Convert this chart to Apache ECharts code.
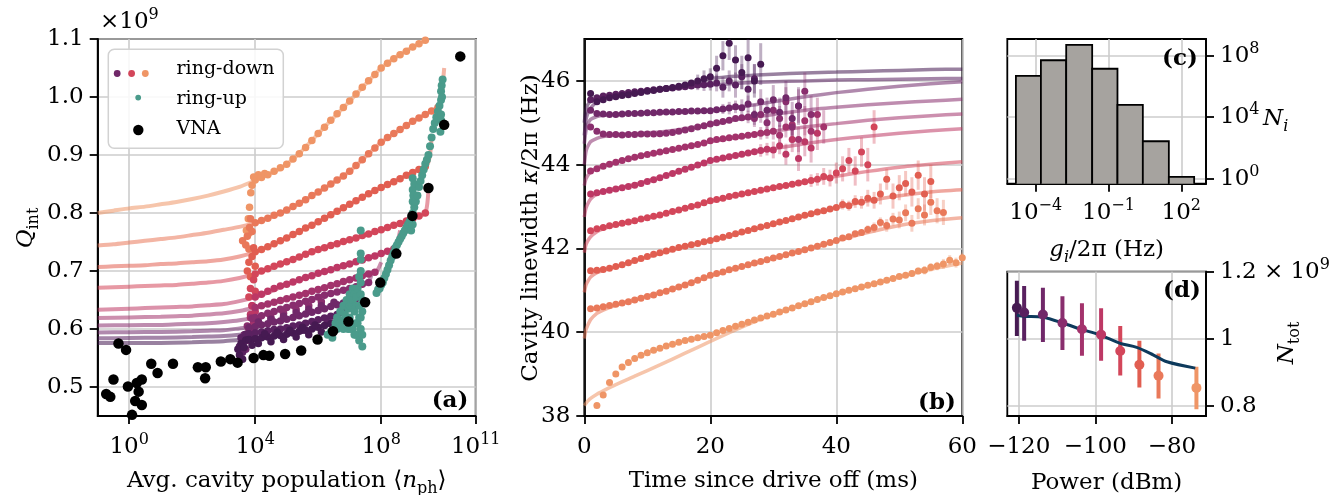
<!DOCTYPE html>
<html><head><meta charset="utf-8">
<script src="https://cdn.jsdelivr.net/npm/echarts@6/dist/echarts.min.js"></script>
<style>html,body{margin:0;padding:0;background:#fff}#c{width:1338px;height:495px}</style>
</head><body><div id="c"></div>
<script>
// ---------- colours per drive power (index 0 = -120 dBm ... 9 = -74 dBm) ----------
const colors = ['#461a52','#5a2160','#702869','#892e6e','#a3336c','#bd3865','#d3465a','#e15e51','#e9795a','#ef9566'];
const tealColor = '#4a9b8b';
const navy = '#0d3a5c';

// ---------- panel (a): Q_int vs <n_ph>  (x given as log10 n_ph) ----------
const fitA = [
 [[-1,.576],[0,.576],[1,.576],[2,.577],[2.5,.578],[3,.579],[3.5,.581],[4,.583],[4.5,.587],[5,.591],[5.5,.597],[6,.603],[6.5,.610],[6.6,.618]],
 [[-1,.584],[0,.5845],[1,.585],[2,.586],[2.5,.587],[3,.588],[3.5,.590],[4,.593],[4.5,.597],[5,.602],[5.5,.609],[6,.616],[6.5,.623],[6.8,.628],[6.9,.638]],
 [[-1,.594],[0,.5945],[1,.595],[2,.596],[2.5,.597],[3,.598],[3.5,.601],[4,.604],[4.5,.610],[5,.617],[5.5,.624],[6,.632],[6.5,.640],[7,.648],[7.2,.652],[7.3,.662]],
 [[-1,.606],[0,.6065],[1,.607],[1.5,.608],[2,.609],[2.5,.610],[3,.612],[3.5,.615],[4,.620],[4.5,.628],[5,.637],[5.5,.646],[6,.655],[6.5,.663],[7,.670],[7.5,.678],[7.6,.680],[7.7,.695]],
 [[-1,.619],[0,.620],[1,.621],[1.5,.622],[2,.623],[2.5,.625],[3,.627],[3.5,.631],[4,.637],[4.5,.644],[5,.652],[5.5,.660],[6,.668],[6.5,.676],[7,.685],[7.5,.693],[7.8,.698],[7.9,.703],[8.0,.715]],
 [[-1,.633],[-0.5,.634],[0,.635],[0.5,.636],[1,.637],[1.5,.638],[2,.639],[2.5,.641],[3,.643],[3.5,.648],[4,.655],[4.5,.665],[5,.677],[5.5,.687],[6,.696],[6.5,.704],[7,.712],[7.5,.721],[8,.730],[8.4,.738],[8.5,.745],[8.6,.770]],
 [[-1,.671],[-0.5,.672],[0,.673],[0.5,.674],[1,.675],[1.5,.676],[2,.678],[2.5,.680],[3,.683],[3.5,.688],[4,.695],[4.5,.705],[5,.716],[5.5,.727],[6,.737],[6.5,.746],[7,.754],[7.5,.762],[8,.771],[8.5,.780],[9,.790],[9.4,.800],[9.5,.840]],
 [[-1,.707],[-0.5,.708],[0,.709],[0.5,.710],[1,.712],[1.5,.713],[2,.715],[2.5,.717],[3,.720],[3.5,.725],[4,.733],[4.5,.744],[5,.757],[5.5,.771],[6,.785],[6.5,.800],[7,.815],[7.5,.830],[8,.844],[8.5,.857],[9,.870],[9.45,.882],[9.55,.900],[9.6,.930]],
 [[-1,.744],[-0.5,.746],[0,.749],[0.5,.752],[1,.755],[1.5,.758],[2,.762],[2.5,.766],[3,.771],[3.5,.776],[4,.783],[4.5,.793],[5,.805],[5.5,.820],[6,.836],[6.5,.853],[7,.872],[7.5,.897],[8,.922],[8.5,.940],[9,.958],[9.5,.973],[9.8,.982],[9.9,.995],[10.0,1.05]],
 [[-1,.800],[-0.5,.804],[0,.808],[0.5,.811],[1,.815],[1.5,.819],[2,.824],[2.5,.830],[3,.837],[3.5,.845],[4,.856],[4.5,.868],[5,.884],[5.5,.908],[6,.937],[6.5,.965],[7,.993],[7.5,1.022],[8,1.05],[8.5,1.07],[9,1.086],[9.5,1.10]]
];
const ringDown = [
 [[3.5,.555],[3.55,.575],[3.6,.548],[3.45,.565],[3.65,.568],[3.7,.581],[3.8,.582],[4.0,.583],[4.2,.585],[4.4,.586],[4.6,.588],[4.8,.589],[5.0,.591],[5.2,.593],[5.4,.596],[5.6,.598],[5.8,.600],[6.0,.603],[6.2,.606],[6.4,.609],[6.5,.610],
  [3.9,.572],[4.1,.575],[4.3,.592],[4.5,.578],[4.7,.595],[4.9,.582],[5.1,.598],[5.3,.586],[5.5,.603],[5.7,.590],[5.9,.607],[6.1,.595]],
 [[3.5,.570],[3.55,.585],[3.6,.560],[3.65,.578],[3.7,.591],[3.8,.592],[4.0,.593],[4.2,.595],[4.4,.597],[4.6,.599],[4.8,.600],[5.0,.602],[5.2,.605],[5.4,.607],[5.6,.610],[5.8,.613],[6.0,.616],[6.2,.619],[6.4,.622],[6.6,.625],[6.8,.628],
  [3.9,.583],[4.3,.588],[4.7,.591],[5.1,.594],[5.5,.598],[5.9,.604],[6.3,.611]],
 [[3.6,.575],[3.65,.590],[3.7,.565],[3.75,.583],[3.8,.602],[4.0,.604],[4.2,.607],[4.4,.609],[4.6,.612],[4.8,.614],[5.0,.617],[5.2,.620],[5.4,.623],[5.6,.626],[5.8,.629],[6.0,.632],[6.2,.635],[6.4,.639],[6.6,.642],[6.8,.645],[7.0,.648],[7.2,.652],
  [4.1,.612],[4.5,.617],[4.9,.622],[5.3,.628],[5.7,.634],[6.1,.640],[6.5,.646]],
 [[3.7,.590],[3.75,.605],[3.8,.580],[3.85,.595],[3.9,.618],[4.0,.620],[4.2,.623],[4.4,.627],[4.6,.630],[4.8,.634],[5.0,.637],[5.2,.641],[5.4,.644],[5.6,.648],[5.8,.651],[6.0,.655],[6.2,.658],[6.4,.661],[6.6,.664],[6.8,.667],[7.0,.670],[7.2,.673],[7.4,.677],[7.6,.680],
  [4.1,.613],[4.5,.620],[4.9,.627],[5.3,.633],[5.7,.640],[6.1,.647]],
 [[3.8,.600],[3.85,.620],[3.9,.595],[3.95,.610],[4.0,.637],[4.2,.640],[4.4,.643],[4.6,.646],[4.8,.649],[5.0,.652],[5.2,.655],[5.4,.658],[5.6,.661],[5.8,.665],[6.0,.668],[6.2,.671],[6.4,.675],[6.6,.678],[6.8,.682],[7.0,.685],[7.2,.688],[7.4,.692],[7.6,.695],[7.8,.698]],
 [[3.85,.625],[3.9,.640],[3.95,.610],[4.0,.630],[4.0,.655],[4.2,.660],[4.4,.665],[4.6,.670],[4.8,.674],[5.0,.677],[5.2,.681],[5.4,.685],[5.6,.689],[5.8,.692],[6.0,.696],[6.2,.699],[6.4,.702],[6.6,.706],[6.8,.709],[7.0,.712],[7.2,.716],[7.4,.719],[7.6,.723],[7.8,.726],[8.0,.730],[8.2,.734],[8.4,.738]],
 [[3.8,.655],[3.85,.670],[3.9,.640],[3.95,.685],[4.0,.665],[4.0,.695],[4.2,.700],[4.4,.704],[4.6,.708],[4.8,.712],[5.0,.716],[5.2,.720],[5.4,.724],[5.6,.729],[5.8,.733],[6.0,.737],[6.2,.740],[6.4,.744],[6.6,.747],[6.8,.751],[7.0,.754],[7.2,.757],[7.4,.761],[7.6,.764],[7.8,.768],[8.0,.771],[8.2,.775],[8.4,.779],[8.6,.782],[8.8,.786],[9.0,.790],[9.2,.795],[9.4,.800]],
 [[3.75,.700],[3.8,.715],[3.85,.690],[3.9,.725],[3.95,.740],[4.0,.708],[4.0,.733],[4.2,.737],[4.4,.742],[4.6,.747],[4.8,.752],[5.0,.757],[5.2,.763],[5.4,.768],[5.6,.774],[5.8,.779],[6.0,.785],[6.2,.791],[6.4,.797],[6.6,.803],[6.8,.809],[7.0,.815],[7.2,.821],[7.4,.827],[7.6,.833],[7.8,.839],[8.0,.844],[8.2,.849],[8.4,.854],[8.6,.859],[8.8,.865],[9.0,.870],[9.2,.875],[9.4,.880]],
 [[3.6,.752],[3.7,.745],[3.75,.760],[3.8,.738],[3.82,.775],[3.85,.790],[3.9,.768],[4.0,.783],[4.2,.787],[4.4,.791],[4.6,.796],[4.8,.800],[5.0,.805],[5.2,.811],[5.4,.817],[5.6,.823],[5.8,.830],[6.0,.836],[6.2,.843],[6.4,.850],[6.6,.857],[6.8,.864],[7.0,.872],[7.2,.882],[7.4,.892],[7.6,.902],[7.8,.912],[8.0,.922],[8.2,.930],[8.4,.937],[8.6,.944],[8.8,.951],[9.0,.958],[9.2,.964],[9.4,.970],[9.6,.976],[9.8,.982]],
 [[3.72,.770],[3.78,.790],[3.8,.765],[3.82,.810],[3.86,.835],[3.9,.848],[3.95,.862],[4.0,.857],[4.1,.866],[4.2,.861],[4.3,.868],[4.4,.866],[4.6,.872],[4.8,.878],[5.0,.884],[5.2,.893],[5.4,.902],[5.6,.913],[5.8,.925],[6.0,.937],[6.2,.948],[6.4,.960],[6.6,.971],[6.8,.982],[7.0,.993],[7.2,1.005],[7.4,1.017],[7.6,1.028],[7.8,1.039],[8.0,1.05],[8.2,1.058],[8.4,1.066],[8.6,1.073],[8.8,1.079],[9.0,1.086],[9.2,1.092],[9.4,1.098]]
];
const ringUp = [[6.3,.59],[6.4,.595],[6.45,.585],[6.5,.60],[6.55,.61],[6.6,.62],[6.6,.60],[6.65,.605],[6.7,.63],[6.7,.61],[6.75,.615],[6.8,.64],[6.8,.60],[6.85,.625],[6.9,.65],[6.9,.615],[6.95,.635],[6.95,.60],[7.0,.66],[7.0,.62],[7.0,.64],[7.05,.645],[7.05,.60],[7.1,.67],[7.1,.60],[7.1,.65],[7.15,.63],[7.15,.66],[7.15,.59],[7.2,.655],[7.2,.59],[7.2,.64],[7.2,.61],[7.25,.61],[7.25,.67],[7.3,.64],[7.3,.58],[7.3,.62],[7.3,.69],[7.35,.60],[7.35,.62],[7.35,.66],[7.35,.68],[7.35,.70],[7.35,.72],[7.35,.73],[7.35,.77],[7.4,.63],[7.4,.59],[7.4,.57],[7.4,.65],
 [7.85,.662],[7.9,.668],[7.95,.67],[8.0,.676],[8.05,.68],[8.1,.688],[8.15,.695],[8.2,.702],[8.25,.71],[8.3,.718],[8.35,.725],[8.4,.732],[8.45,.74],[8.5,.745],[8.55,.75],[8.6,.755],[8.65,.76],[8.7,.765],[8.75,.77],[8.8,.775],[8.85,.78],[8.9,.785],[8.95,.79],[8.95,.77],[9.0,.78],[9.0,.80],[9.0,.82],[9.0,.84],[9.0,.86],[9.02,.83],[9.05,.81],[9.05,.85],[9.1,.82],[9.15,.83],[9.2,.845],[9.25,.855],[9.3,.865],[9.35,.875],[9.4,.885],[9.45,.892],[9.5,.90],[9.55,.915],[9.6,.93],[9.65,.945],[9.7,.955],[9.75,.965],[9.8,.975],[9.85,.985],[9.88,.94],[9.9,.96],[9.9,.97],[9.9,.995],[9.9,1.01],[9.92,1.02],[9.93,1.00],[9.95,1.03]];
const vnaLogN = [-0.73,-0.60,-0.50,-0.34,-0.10,-0.04,0.09,0.19,0.24,0.30,0.40,0.40,0.70,0.90,1.39,2.18,2.43,2.41,2.91,3.21,3.44,3.95,4.26,4.45,4.95,5.46,5.98,6.47,6.96,7.49,7.97,8.48,8.99,9.50,10.0,10.51];
const vnaQ = [.488,.483,.513,.575,.564,.501,.452,.476,.507,.492,.469,.513,.540,.524,.540,.534,.534,.515,.544,.548,.542,.550,.555,.554,.557,.563,.582,.596,.613,.646,.680,.730,.795,.843,.952,1.070];
const aTicksX = [1, 1e4, 1e8, 1e11];
const aTicksY = [0.5, 0.6, 0.7, 0.8, 0.9, 1.0, 1.1];

// ---------- panel (b): linewidth vs time ----------
const tGrid = [1,2,3,4,5,6,7,8,9,10,11,12,13,14,15,16,17,18,19,20,21,22,23,24,25,26,27,28,29,30,31,32,33,34,35,36,37,38,39,40,41,42,43,44,45,46,47,48,49,50,51,52,53,54,55,56,57,58,59,60];
const kappa = [
 [45.7,45.5,45.55,45.6,45.62,45.65,45.67,45.7,45.72,45.75,45.77,45.8,45.82,45.84,45.87,45.9,45.95,46.0,46.05,46.1,46.3,46.6,46.9,46.5,46.2,46.55,46.0,46.4],
 [45.55,45.6,45.64,45.66,45.68,45.7,45.72,45.74,45.75,45.77,45.79,45.8,45.82,45.83,45.85,45.86,45.88,45.9,45.91,45.92,45.95,45.85,46.0,45.9,46.1,45.8,46.05],
 [45.3,45.22,45.21,45.2,45.2,45.21,45.22,45.22,45.23,45.24,45.24,45.25,45.26,45.26,45.27,45.27,45.28,45.28,45.29,45.29,45.31,45.33,45.35,45.38,45.36,45.45,45.2,45.5,45.3,45.55,45.25,45.6,45.1,45.4],
 [44.9,44.8,44.73,44.72,44.72,44.71,44.72,44.72,44.73,44.73,44.73,44.74,44.75,44.77,44.8,44.83,44.86,44.9,44.93,44.97,45.0,45.03,45.06,45.1,45.12,45.14,45.1,45.2,45.0,45.3,45.1,45.5,44.9,45.4,45.75,45.2],
 [43.85,43.9,43.96,44.01,44.06,44.1,44.14,44.18,44.21,44.24,44.27,44.3,44.33,44.36,44.39,44.42,44.45,44.48,44.52,44.57,44.6,44.62,44.64,44.66,44.68,44.7,44.72,44.75,44.77,44.8,44.7,44.9,44.95,44.6,45.05,44.8,45.2,44.9],
 [43.3,43.33,43.36,43.39,43.42,43.45,43.48,43.51,43.55,43.6,43.64,43.69,43.74,43.79,43.84,43.89,43.94,43.99,44.04,44.1,44.13,44.16,44.19,44.22,44.25,44.28,44.31,44.34,44.37,44.35,44.45,44.25,44.6,44.15,44.55,44.4,44.75],
 [42.42,42.47,42.5,42.54,42.57,42.6,42.63,42.66,42.7,42.73,42.77,42.8,42.84,42.88,42.92,42.96,43.0,43.04,43.09,43.14,43.17,43.2,43.24,43.27,43.3,43.33,43.36,43.39,43.42,43.45,43.48,43.5,43.53,43.56,43.59,43.62,43.65,43.72,43.68,43.8,43.9,44.1,43.85,44.3,44.0,44.9],
 [41.47,41.48,41.5,41.53,41.57,41.61,41.66,41.71,41.76,41.81,41.86,41.9,41.94,41.98,42.02,42.05,42.09,42.12,42.16,42.19,42.23,42.27,42.31,42.35,42.39,42.43,42.47,42.51,42.55,42.59,42.63,42.67,42.71,42.75,42.79,42.83,42.87,42.9,42.94,42.98,43.05,43.02,43.12,43.1,43.2,43.15,43.3,43.65,43.25,43.45,43.55,43.35,43.75,43.3,43.6],
 [40.56,40.58,40.61,40.64,40.67,40.7,40.73,40.77,40.81,40.85,40.89,40.94,40.98,41.03,41.08,41.13,41.18,41.24,41.3,41.36,41.4,41.44,41.49,41.53,41.57,41.61,41.65,41.69,41.73,41.77,41.81,41.85,41.89,41.93,41.97,42.01,42.05,42.1,42.14,42.19,42.25,42.28,42.35,42.38,42.45,42.5,42.62,42.55,42.7,42.68,42.85,42.6,42.95,42.8,43.1,42.9,42.86],
 [37.7,38.25,38.5,38.8,39.0,39.17,39.28,39.37,39.45,39.51,39.57,39.62,39.67,39.71,39.76,39.8,39.83,39.87,39.9,39.93,39.99,40.04,40.09,40.14,40.19,40.24,40.29,40.34,40.39,40.43,40.48,40.53,40.58,40.63,40.68,40.73,40.78,40.83,40.87,40.92,40.96,41.0,41.04,41.08,41.12,41.16,41.2,41.24,41.28,41.33,41.36,41.4,41.46,41.48,41.55,41.58,41.63,41.72,41.66,41.78]
];
const bErrStart = [18,18,22,26,28,28,36,41,45,52];
const bErr = [
 [0.15,0.2,0.2,0.3,0.35,0.4,0.35,0.4,0.45,0.4,0.5],
 [0.12,0.15,0.15,0.2,0.25,0.25,0.3,0.3,0.35,0.35],
 [0.12,0.15,0.15,0.2,0.2,0.25,0.3,0.3,0.35,0.35,0.4,0.4,0.45],
 [0.15,0.2,0.2,0.25,0.3,0.3,0.35,0.4,0.4,0.45,0.45],
 [0.15,0.15,0.2,0.25,0.25,0.3,0.3,0.35,0.35,0.4,0.4],
 [0.15,0.15,0.2,0.2,0.25,0.3,0.3,0.35,0.35,0.4],
 [0.15,0.15,0.2,0.2,0.25,0.3,0.3,0.35,0.35,0.4,0.4],
 [0.12,0.12,0.15,0.15,0.2,0.2,0.25,0.25,0.3,0.3,0.3,0.35,0.35,0.4,0.4],
 [0.1,0.12,0.12,0.15,0.15,0.2,0.2,0.2,0.25,0.25,0.3,0.3,0.3],
 [0.08,0.08,0.1,0.1,0.1,0.12,0.12,0.12,0.12]
];
const fitT = [0,0.25,0.5,1,2,3,5,8,12,16,20,25,30,35,40,45,50,55,60];
const fitK = [
 [45.0,45.3,45.42,45.52,45.58,45.62,45.66,45.72,45.8,45.9,46.05,46.12,46.16,46.19,46.21,46.23,46.25,46.27,46.28],
 [44.7,45.05,45.2,45.35,45.5,45.58,45.66,45.73,45.79,45.85,45.9,45.95,45.98,46.0,46.02,46.03,46.04,46.05,46.06],
 [44.5,44.8,44.95,45.08,45.15,45.18,45.2,45.22,45.24,45.26,45.29,45.38,45.5,45.62,45.72,45.8,45.87,45.93,45.98],
 [44.0,44.3,44.42,44.55,44.63,44.67,44.71,44.74,44.78,44.86,44.96,45.1,45.2,45.3,45.37,45.43,45.48,45.52,45.56],
 [43.5,43.65,43.73,43.83,43.92,43.98,44.06,44.18,44.3,44.42,44.55,44.68,44.8,44.9,44.98,45.06,45.12,45.17,45.21],
 [42.75,42.95,43.05,43.18,43.3,43.36,43.43,43.53,43.7,43.9,44.08,44.25,44.38,44.5,44.6,44.68,44.75,44.81,44.86],
 [41.9,42.08,42.17,42.28,42.4,42.47,42.56,42.66,42.8,42.96,43.12,43.3,43.45,43.59,43.72,43.84,43.94,44.01,44.07],
 [40.95,41.12,41.2,41.32,41.42,41.48,41.56,41.7,41.88,42.04,42.18,42.38,42.58,42.78,42.97,43.13,43.26,43.35,43.4],
 [39.85,40.05,40.15,40.3,40.45,40.53,40.64,40.78,40.95,41.14,41.34,41.56,41.77,41.97,42.18,42.38,42.55,42.66,42.73],
 [38.25,38.3,38.35,38.42,38.52,38.6,38.75,38.95,39.22,39.5,39.78,40.12,40.43,40.68,40.92,41.12,41.32,41.5,41.65]
];
const bTicksX = [0, 20, 40, 60];
const bTicksY = [38, 40, 42, 44, 46];

// ---------- panel (c): histogram of couplings ----------
const binLo = [1.53e-5, 1.64e-4, 1.81e-3, 2.13e-2, 0.235, 2.61, 30.8];
const binHi = [1.64e-4, 1.81e-3, 2.13e-2, 0.235, 2.61, 30.8, 340];
const binCount = [4.8e6, 5.0e7, 5.0e8, 1.4e7, 6.3e4, 270, 1.3];
const cTicksX = [1e-4, 1e-1, 1e2];
const cTicksY = [1, 1e4, 1e8];

// ---------- panel (d): N_tot vs power ----------
const power = [-120.5,-118.6,-113.7,-108.6,-103.5,-98.5,-93.5,-88.5,-83.5,-73.6];
const nTot  = [1.092,1.078,1.072,1.047,1.028,1.012,0.963,0.922,0.889,0.853];
const nLow  = [1.008,0.994,0.990,0.966,0.949,0.934,0.890,0.854,0.821,0.789];
const nHigh = [1.173,1.157,1.152,1.127,1.106,1.091,1.038,0.994,0.956,0.916];
const modelPower = [-120.5,-118.6,-113.7,-108.3,-104,-98.8,-93.5,-89.2,-84.8,-81.3,-73.9];
const modelN = [1.070,1.067,1.064,1.046,1.029,1.011,0.986,0.974,0.951,0.931,0.912];
const dTicksX = [-120, -100, -80];
const dTicksY = [0.8, 1.0, 1.2];

// ---------- build ----------
const F = 'DejaVu Serif';
const FS = 23;
const powRich = {
  b:{fontFamily:F,fontSize:FS,color:'#000',lineHeight:30},
  s:{fontFamily:F,fontSize:16,color:'#000',verticalAlign:'top',lineHeight:16}
};
function powLabel(v){ const e = Math.round(Math.log10(v)); return '{b|10}{s|' + (e < 0 ? '\u2212' + (-e) : e) + '}'; }
function minus(v){ return v < 0 ? '\u2212' + Math.abs(v) : String(v); }
const nameRich = {
  r:{fontFamily:F,fontSize:FS,color:'#000',lineHeight:32},
  i:{fontFamily:F,fontStyle:'italic',fontSize:FS,color:'#000',lineHeight:32},
  sub:{fontFamily:F,fontSize:16,color:'#000',verticalAlign:'bottom',lineHeight:16},
  isub:{fontFamily:F,fontStyle:'italic',fontSize:16,color:'#000',verticalAlign:'bottom',lineHeight:16}
};
const L10 = e => Math.pow(10, e);

function axis(o){
  const base = {
    axisLine:{show:true,onZero:false,lineStyle:{color:'#000',width:1.8}},
    axisTick:{show:true,length:8,lineStyle:{color:'#000',width:1.8},customValues:o.ticks},
    splitLine:{show:true,lineStyle:{color:'#cccccc',width:1.6}},
    axisLabel:{show:true,color:'#000',fontFamily:F,fontSize:FS,margin:o.margin,customValues:o.ticks,formatter:o.fmt,rich:powRich,lineHeight:30,hideOverlap:false},
    nameTextStyle:{fontFamily:F,fontSize:FS,color:'#000',rich:nameRich},
    nameMoveOverlap:false
  };
  delete o.ticks; delete o.margin; delete o.fmt;
  return Object.assign(base, o);
}

const grids = [
  {left:97.7, top:39, width:378, height:377},
  {left:584.3, top:39, width:378, height:377},
  {left:1007.3, top:39, width:198.7, height:144.7},
  {left:1007.3, top:271.7, width:198.7, height:144.3}
].map(g => Object.assign({show:true, borderColor:'#000', borderWidth:1.8, containLabel:false, outerBoundsMode:'none'}, g));

const xAxes = [
  axis({type:'log', logBase:10, gridIndex:0, min:0.1, max:1e11, ticks:aTicksX, margin:16, fmt:powLabel,
        name:'{r|Avg. cavity population \u27E8}{i|n}{sub|ph}{r|\u27E9}', nameLocation:'middle', nameGap:49}),
  axis({type:'value', gridIndex:1, min:0, max:60, ticks:bTicksX, margin:16, fmt:v=>'{b|'+v+'}',
        name:'{r|Time since drive off (ms)}', nameLocation:'middle', nameGap:49}),
  axis({type:'log', logBase:10, gridIndex:2, min:6.76e-6, max:1047, ticks:cTicksX, margin:14, fmt:powLabel,
        name:'{i|g}{isub|i}{r|/2\u03C0 (Hz)}', nameLocation:'middle', nameGap:50}),
  axis({type:'value', gridIndex:3, min:-123, max:-71.1, ticks:dTicksX, margin:16, fmt:v=>'{b|'+minus(v)+'}',
        name:'{r|Power (dBm)}', nameLocation:'middle', nameGap:51})
];
const yAxes = [
  axis({type:'value', gridIndex:0, min:0.45, max:1.1, ticks:aTicksY, margin:14, fmt:v=>'{b|'+v.toFixed(1)+'}'}),
  axis({type:'value', gridIndex:1, min:38, max:47, ticks:bTicksY, margin:14, fmt:v=>'{b|'+v+'}'}),
  axis({type:'log', logBase:10, gridIndex:2, position:'right', min:0.468, max:1.2e9, ticks:cTicksY, margin:14, fmt:powLabel}),
  axis({type:'value', gridIndex:3, position:'right', min:0.769, max:1.2, ticks:dTicksY, margin:14,
        fmt:v=>Math.abs(v-1.2)<1e-6 ? '{b|1.2 \u00D7 10}{s|9}' : (Math.abs(v-1)<1e-6 ? '{b|1}' : '{b|'+v+'}')})
];

const series = [];
// (a) fit lines
for (let p = 9; p >= 0; p--) {
  series.push({type:'line', xAxisIndex:0, yAxisIndex:0, data:fitA[p].map(d=>[L10(d[0]), d[1]]),
    smooth:0.2, symbol:'none', lineStyle:{color:colors[p], width:4, opacity:0.55}, z:2, silent:true});
}
// (a) ring-down points
for (let p = 9; p >= 0; p--) {
  series.push({type:'scatter', xAxisIndex:0, yAxisIndex:0, data:ringDown[p].map(d=>[L10(d[0]), d[1]]),
    symbolSize:7.5, itemStyle:{color:colors[p], opacity:1}, z:3, silent:true});
}
series.push({type:'scatter', xAxisIndex:0, yAxisIndex:0, data:ringUp.map(d=>[L10(d[0]), d[1]]),
  symbolSize:8, itemStyle:{color:tealColor, opacity:1}, z:4, silent:true});
series.push({type:'scatter', xAxisIndex:0, yAxisIndex:0, data:vnaLogN.map((e,i)=>[L10(e), vnaQ[i]]),
  symbolSize:10.5, itemStyle:{color:'#000', opacity:1}, z:5, silent:true});

// (b) fit lines, error bars, points
for (let p = 9; p >= 0; p--) {
  series.push({type:'line', xAxisIndex:1, yAxisIndex:1, data:fitT.map((t,i)=>[t, fitK[p][i]]),
    smooth:0.2, symbol:'none', lineStyle:{color:colors[p], width:3.5, opacity:0.55}, z:2, silent:true});
}
for (let p = 9; p >= 0; p--) {
  const errData = bErr[p].map((e,i)=>{ const t = bErrStart[p]+i; const k = kappa[p][t-1]; return [t, k-e, k+e]; });
  const col = colors[p];
  series.push({type:'custom', xAxisIndex:1, yAxisIndex:1, data:errData, clip:true, z:3, silent:true,
    renderItem:(params, api)=>{
      const a = api.coord([api.value(0), api.value(1)]);
      const b = api.coord([api.value(0), api.value(2)]);
      return {type:'line', shape:{x1:a[0], y1:a[1], x2:b[0], y2:b[1]}, style:{stroke:col, lineWidth:3, opacity:0.35}};
    }});
}
for (let p = 9; p >= 0; p--) {
  series.push({type:'scatter', xAxisIndex:1, yAxisIndex:1, data:kappa[p].map((k,i)=>[tGrid[i], k]),
    symbolSize:7, itemStyle:{color:colors[p], opacity:1}, z:4, silent:true});
}

// (c) histogram
series.push({type:'custom', xAxisIndex:2, yAxisIndex:2, clip:true, z:3, silent:true,
  data:binLo.map((lo,i)=>[lo, binHi[i], binCount[i]]),
  renderItem:(params, api)=>{
    const a = api.coord([api.value(0), api.value(2)]);
    const b = api.coord([api.value(1), 0.2]);
    return {type:'rect', shape:{x:a[0], y:a[1], width:b[0]-a[0], height:b[1]-a[1]},
      style:{fill:'#a6a39f', stroke:'#000', lineWidth:1.8}};
  }});

// (d) error bars, model line, points
series.push({type:'custom', xAxisIndex:3, yAxisIndex:3, clip:true, z:3, silent:true,
  data:power.map((x,i)=>[x, nLow[i], nHigh[i], i]),
  renderItem:(params, api)=>{
    const a = api.coord([api.value(0), api.value(1)]);
    const b = api.coord([api.value(0), api.value(2)]);
    return {type:'line', shape:{x1:a[0], y1:a[1], x2:b[0], y2:b[1]}, style:{stroke:colors[api.value(3)], lineWidth:4}};
  }});
series.push({type:'line', xAxisIndex:3, yAxisIndex:3, data:modelPower.map((x,i)=>[x, modelN[i]]),
  smooth:0.3, symbol:'none', lineStyle:{color:navy, width:3}, z:4, silent:true});
series.push({type:'scatter', xAxisIndex:3, yAxisIndex:3, z:5, silent:true, symbolSize:10,
  data:power.map((x,i)=>({value:[x, nTot[i]], itemStyle:{color:colors[i], opacity:1}}))});

// ---------- texts and legend ----------
const txt = (x, y, text, extra) => Object.assign({type:'text', x:x, y:y, silent:true, z:100,
  style:Object.assign({text:text, fontFamily:F, fontSize:FS, fill:'#000', textAlign:'center', textVerticalAlign:'middle', align:'center', verticalAlign:'middle'}, extra || {})});

const graphic = [
  {type:'rect', shape:{x:108.3, y:49.3, width:175, height:99, r:6}, style:{fill:'rgba(255,255,255,0.85)', stroke:'#d2d2d2', lineWidth:1.5}, z:50, silent:true},
  {type:'circle', shape:{cx:117.2, cy:73.5, r:3.4}, style:{fill:colors[2]}, z:51, silent:true},
  {type:'circle', shape:{cx:131.6, cy:73.5, r:3.4}, style:{fill:colors[6]}, z:51, silent:true},
  {type:'circle', shape:{cx:145.3, cy:73.5, r:3.4}, style:{fill:colors[9]}, z:51, silent:true},
  {type:'circle', shape:{cx:138.2, cy:97.6, r:2.9}, style:{fill:tealColor}, z:51, silent:true},
  {type:'circle', shape:{cx:138.3, cy:130, r:5.2}, style:{fill:'#000'}, z:51, silent:true},
  txt(176.5, 69, 'ring-down', {fontSize:19, textAlign:'left', align:'left'}),
  txt(176.5, 99, 'ring-up', {fontSize:19, textAlign:'left', align:'left'}),
  txt(176.5, 129, 'VNA', {fontSize:19, textAlign:'left', align:'left'}),
  txt(100, 22, '{b|\u00D710}{s|9}', {textAlign:'left', align:'left', rich:powRich}),
  txt(450, 401, '(a)', {fontWeight:'bold'}),
  txt(937, 403, '(b)', {fontWeight:'bold'}),
  txt(1180, 59, '(c)', {fontWeight:'bold'}),
  txt(1182, 291, '(d)', {fontWeight:'bold'}),
  Object.assign(txt(26, 228, '{i|Q}{sub|int}', {rich:nameRich}), {rotation:Math.PI/2}),
  Object.assign(txt(531, 228, '{r|Cavity linewidth }{i|\u03BA}{r|/2\u03C0 (Hz)}', {rich:nameRich}), {rotation:Math.PI/2}),
  txt(1263, 119, '{i|N}{isub|i}', {rich:nameRich, textAlign:'left', align:'left'}),
  Object.assign(txt(1287, 343, '{i|N}{sub|tot}', {rich:nameRich}), {rotation:Math.PI/2})
];

const chart = echarts.init(document.getElementById('c'), null, {renderer:'canvas', width:1338, height:495});
chart.setOption({
  animation:false,
  backgroundColor:'#ffffff',
  grid:grids,
  xAxis:xAxes,
  yAxis:yAxes,
  series:series,
  graphic:graphic
});
</script>
</body></html>
